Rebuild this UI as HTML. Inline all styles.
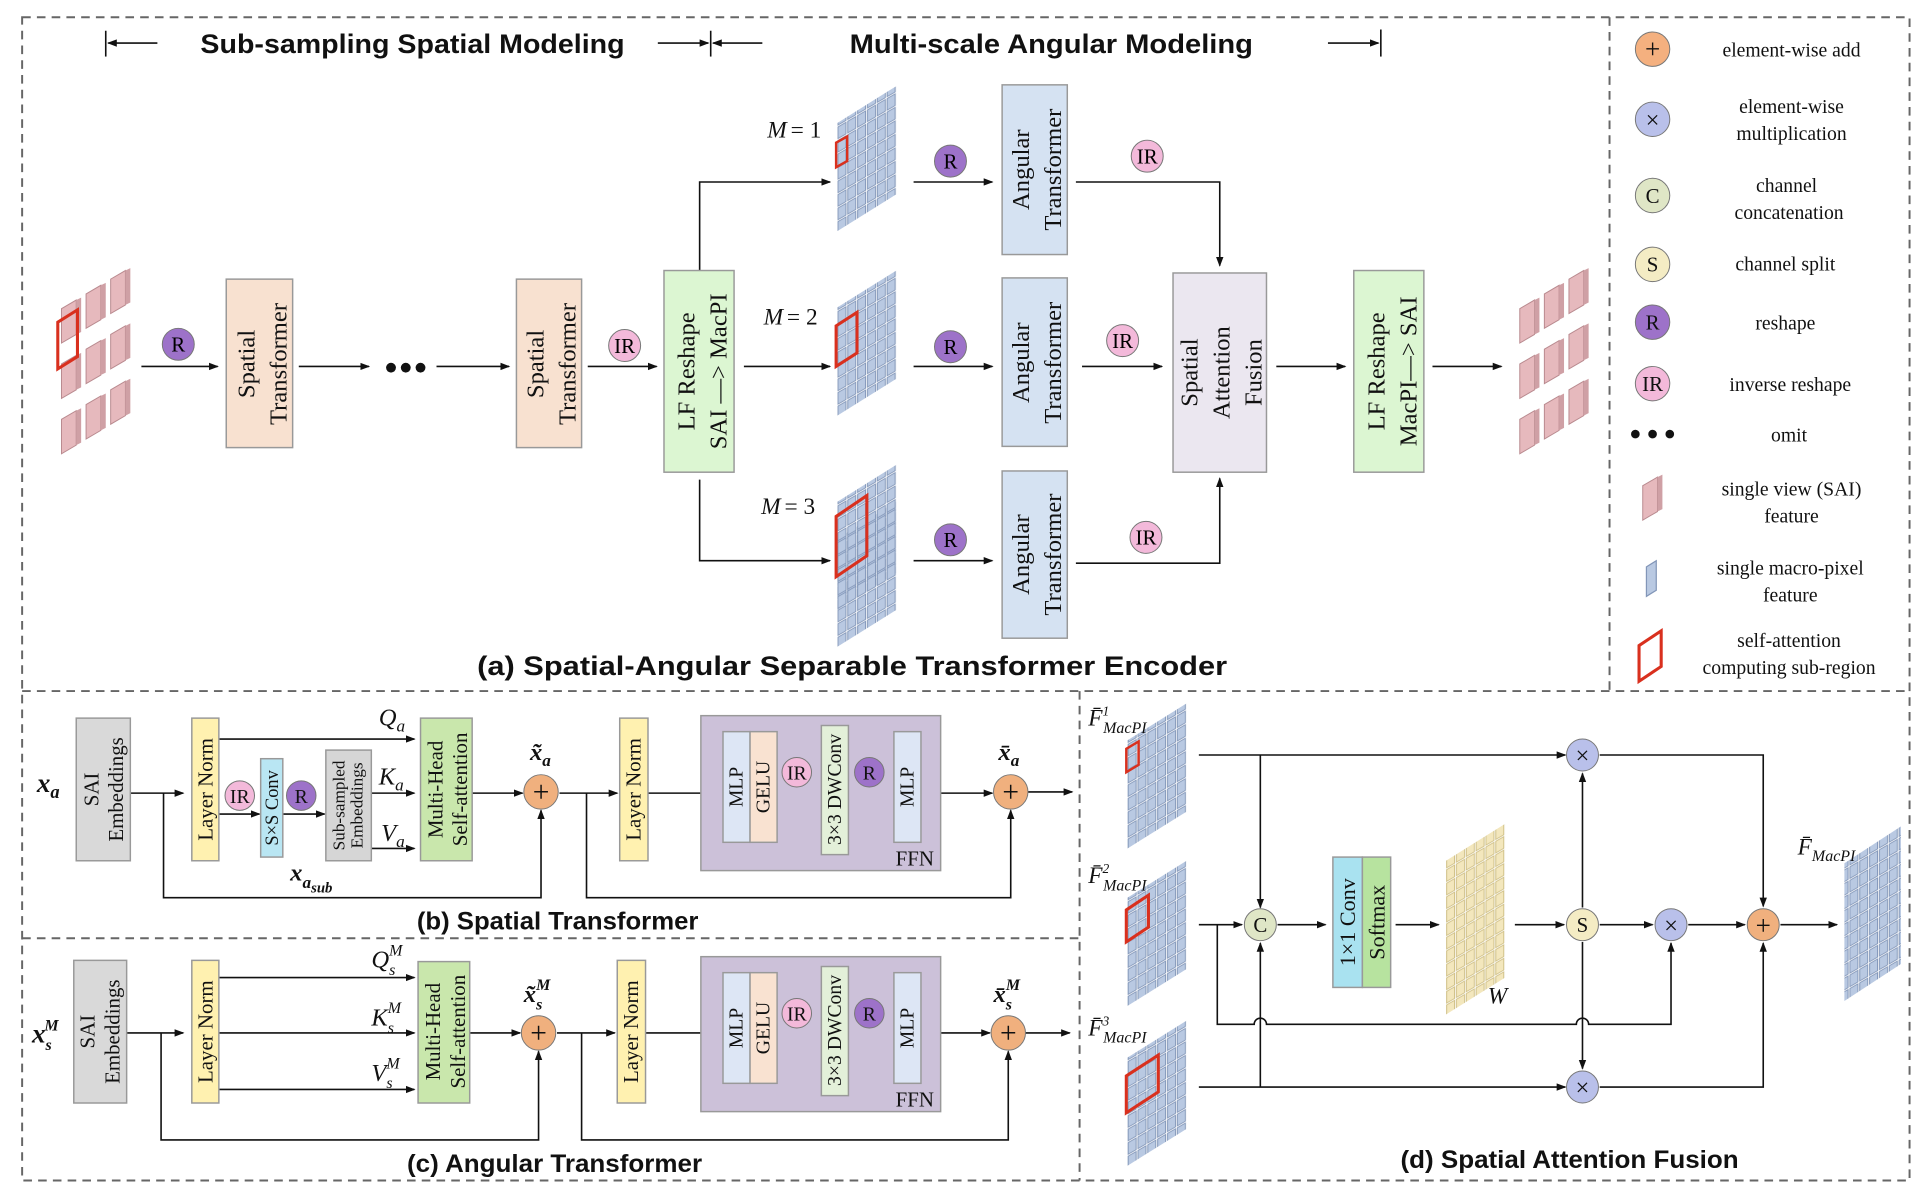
<!DOCTYPE html>
<html><head><meta charset="utf-8"><style>
html,body{margin:0;padding:0;background:#fff}
svg{display:block}
.t{font-family:"Liberation Serif",serif;fill:#111}
.s{font-family:"Liberation Sans",sans-serif;font-weight:bold;fill:#111}
.ln{stroke:#111;stroke-width:1.3;fill:none}
.bx{stroke:#999;stroke-width:1.2}
</style></head><body>
<svg width="1928" height="1194" viewBox="0 0 1568 971" preserveAspectRatio="none" xmlns="http://www.w3.org/2000/svg">
<defs>
<marker id="a" markerWidth="8" markerHeight="8" refX="7" refY="4" orient="auto" markerUnits="userSpaceOnUse"><path d="M0,1 L8,4 L0,7z" fill="#111"/></marker>
<pattern id="gp" width="8" height="11" patternUnits="userSpaceOnUse" patternTransform="skewY(-30)"><rect x="0.5" y="0.5" width="6.5" height="9.5" fill="#b9c9e2" stroke="#8296b8" stroke-width="0.8"/></pattern>
<pattern id="yp" width="8" height="11" patternUnits="userSpaceOnUse" patternTransform="skewY(-30)"><rect x="0.5" y="0.5" width="6.5" height="9.5" fill="#f3e7bd" stroke="#cfbf85" stroke-width="0.8"/></pattern>
<g id="blk"><polygon points="0,12 12,5 12,33 0,40" fill="#e6b9bd" stroke="#b98a8f" stroke-width="0.8"/><polygon points="12,5 16,3 16,31 12,33" fill="#cfa0a5"/></g>
<g id="sai">
<use href="#blk" x="40" y="0"/><use href="#blk" x="20" y="12"/><use href="#blk" x="0" y="24"/>
<use href="#blk" x="40" y="45"/><use href="#blk" x="20" y="57"/><use href="#blk" x="0" y="69"/>
<use href="#blk" x="40" y="90"/><use href="#blk" x="20" y="102"/><use href="#blk" x="0" y="114"/>
</g>
<g id="grid"><polygon points="0,30 48,0 48,88 0,118" fill="url(#gp)"/></g>
</defs>
<rect width="1568" height="971" fill="#fff"/>
<g stroke="#666" stroke-width="1.6" stroke-dasharray="7,5" fill="none">
<rect x="18" y="14" width="1535" height="946"/>
<line x1="1309" y1="14" x2="1309" y2="562"/>
<line x1="18" y1="562" x2="1553" y2="562"/>
<line x1="878" y1="562" x2="878" y2="960"/>
<line x1="18" y1="763" x2="878" y2="763"/>
</g>
<g class="ln"><line x1="86" y1="25" x2="86" y2="46"/><line x1="128" y1="35" x2="88" y2="35" marker-end="url(#a)"/>
<line x1="535" y1="35" x2="576" y2="35" marker-end="url(#a)"/><line x1="578" y1="25" x2="578" y2="46"/><line x1="620" y1="35" x2="580" y2="35" marker-end="url(#a)"/>
<line x1="1080" y1="35" x2="1121" y2="35" marker-end="url(#a)"/><line x1="1123" y1="24" x2="1123" y2="46"/></g>
<text class="s" x="163" y="43" font-size="22" textLength="345" lengthAdjust="spacingAndGlyphs">Sub-sampling Spatial Modeling</text>
<text class="s" x="691" y="43" font-size="22" textLength="328" lengthAdjust="spacingAndGlyphs">Multi-scale Angular Modeling</text>

<use href="#sai" x="50" y="215"/>
<polygon points="47,262 63,252 63,290 47,300" fill="none" stroke="#d9301e" stroke-width="2.5"/>
<use href="#sai" x="1236" y="215"/>
<g class="ln">
<line x1="115" y1="298" x2="177" y2="298" marker-end="url(#a)"/>
<line x1="243" y1="298" x2="300" y2="298" marker-end="url(#a)"/>
<line x1="355" y1="298" x2="414" y2="298" marker-end="url(#a)"/>
<line x1="478" y1="298" x2="534" y2="298" marker-end="url(#a)"/>
<polyline points="569,220 569,148 675,148" marker-end="url(#a)"/>
<line x1="605" y1="298" x2="675" y2="298" marker-end="url(#a)"/>
<polyline points="569,390 569,456 675,456" marker-end="url(#a)"/>
<line x1="743" y1="148" x2="807" y2="148" marker-end="url(#a)"/>
<line x1="743" y1="298" x2="807" y2="298" marker-end="url(#a)"/>
<line x1="743" y1="456" x2="807" y2="456" marker-end="url(#a)"/>
<polyline points="875,148 992,148 992,216" marker-end="url(#a)"/>
<line x1="880" y1="298" x2="945" y2="298" marker-end="url(#a)"/>
<polyline points="875,458 992,458 992,389" marker-end="url(#a)"/>
<line x1="1038" y1="298" x2="1094" y2="298" marker-end="url(#a)"/>
<line x1="1165" y1="298" x2="1221" y2="298" marker-end="url(#a)"/>
</g>
<circle cx="318" cy="299" r="4" fill="#111"/><circle cx="330" cy="299" r="4" fill="#111"/><circle cx="342" cy="299" r="4" fill="#111"/>
<rect class="bx" x="184" y="227" width="54" height="137" fill="#f8e1d0"/>
<text class="t" font-size="20" transform="translate(211,296) rotate(-90)" text-anchor="middle"><tspan x="0" dy="-4">Spatial</tspan><tspan x="0" dy="26">Transformer</tspan></text>
<rect class="bx" x="420" y="227" width="53" height="137" fill="#f8e1d0"/>
<text class="t" font-size="20" transform="translate(446,296) rotate(-90)" text-anchor="middle"><tspan x="0" dy="-4">Spatial</tspan><tspan x="0" dy="26">Transformer</tspan></text>
<rect class="bx" x="540" y="220" width="57" height="164" fill="#dcf6d2"/>
<text class="t" font-size="20" transform="translate(569,302) rotate(-90)" text-anchor="middle"><tspan x="0" dy="-4">LF   Reshape</tspan><tspan x="0" dy="26">SAI —&gt; MacPI</tspan></text>
<rect class="bx" x="1101" y="220" width="57" height="164" fill="#dcf6d2"/>
<text class="t" font-size="20" transform="translate(1130,302) rotate(-90)" text-anchor="middle"><tspan x="0" dy="-4">LF   Reshape</tspan><tspan x="0" dy="26">MacPI—&gt; SAI</tspan></text>
<rect class="bx" x="954" y="222" width="76" height="162" fill="#ebe7f0"/>
<text class="t" font-size="20" transform="translate(992,303) rotate(-90)" text-anchor="middle"><tspan x="0" dy="-18">Spatial</tspan><tspan x="0" dy="26">Attention</tspan><tspan x="0" dy="26">Fusion</tspan></text>
<g>
<rect class="bx" x="815" y="69" width="53" height="138" fill="#d5e2f2"/>
<text class="t" font-size="20" transform="translate(841,138) rotate(-90)" text-anchor="middle"><tspan x="0" dy="-4">Angular</tspan><tspan x="0" dy="26">Transformer</tspan></text>
<rect class="bx" x="815" y="226" width="53" height="137" fill="#d5e2f2"/>
<text class="t" font-size="20" transform="translate(841,295) rotate(-90)" text-anchor="middle"><tspan x="0" dy="-4">Angular</tspan><tspan x="0" dy="26">Transformer</tspan></text>
<rect class="bx" x="815" y="383" width="53" height="136" fill="#d5e2f2"/>
<text class="t" font-size="20" transform="translate(841,451) rotate(-90)" text-anchor="middle"><tspan x="0" dy="-4">Angular</tspan><tspan x="0" dy="26">Transformer</tspan></text>
</g>
<use href="#grid" x="681" y="70"/><use href="#grid" x="681" y="220"/><use href="#grid" x="681" y="378"/><use href="#grid" x="681" y="408"/>
<polygon points="680,116 689,111 689,131 680,136" fill="none" stroke="#d9301e" stroke-width="2"/>
<polygon points="680,265 697,254 697,287 680,298" fill="none" stroke="#d9301e" stroke-width="2.5"/>
<polygon points="680,420 705,403 705,452 680,469" fill="none" stroke="#d9301e" stroke-width="2.5"/>
<text class="t" font-size="19" font-style="italic" x="624" y="112">M</text><text class="t" font-size="19" x="643" y="112">= 1</text>
<text class="t" font-size="19" font-style="italic" x="621" y="264">M</text><text class="t" font-size="19" x="640" y="264">= 2</text>
<text class="t" font-size="19" font-style="italic" x="619" y="418">M</text><text class="t" font-size="19" x="638" y="418">= 3</text>
<g font-family="Liberation Serif,serif" font-size="17" text-anchor="middle">
<g stroke="#777" stroke-width="0.8">
<circle cx="145" cy="280" r="13" fill="#9d72c9"/><circle cx="508" cy="281" r="13" fill="#f3b9da"/>
<circle cx="773" cy="131" r="13" fill="#9d72c9"/><circle cx="773" cy="282" r="13" fill="#9d72c9"/><circle cx="773" cy="439" r="13" fill="#9d72c9"/>
<circle cx="933" cy="127" r="13" fill="#f3b9da"/><circle cx="913" cy="277" r="13" fill="#f3b9da"/><circle cx="932" cy="437" r="13" fill="#f3b9da"/>
</g>
<text x="145" y="286">R</text><text x="508" y="287">IR</text>
<text x="773" y="137">R</text><text x="773" y="288">R</text><text x="773" y="445">R</text>
<text x="933" y="133">IR</text><text x="913" y="283">IR</text><text x="932" y="443">IR</text>
</g>
<text class="s" x="388" y="549" font-size="22" textLength="610" lengthAdjust="spacingAndGlyphs">(a) Spatial-Angular Separable Transformer Encoder</text>

<g stroke="#777" stroke-width="0.8">
<circle cx="1344" cy="40" r="14" fill="#f4b07f"/><circle cx="1344" cy="97" r="14" fill="#b9c0ea"/>
<circle cx="1344" cy="159" r="14" fill="#dfe6c6"/><circle cx="1344" cy="215" r="14" fill="#f4ecc4"/>
<circle cx="1344" cy="262" r="14" fill="#9d72c9"/><circle cx="1344" cy="312" r="14" fill="#f3b9da"/>
</g>
<g font-family="Liberation Serif,serif" font-size="17" text-anchor="middle" fill="#111">
<text x="1344" y="47" font-size="22">+</text><text x="1344" y="104" font-size="20">×</text>
<text x="1344" y="165">C</text><text x="1344" y="221">S</text><text x="1344" y="268">R</text><text x="1344" y="318">IR</text>
</g>
<circle cx="1330" cy="353" r="3.5" fill="#111"/><circle cx="1344" cy="353" r="3.5" fill="#111"/><circle cx="1358" cy="353" r="3.5" fill="#111"/>
<use href="#blk" x="1336" y="383"/>
<polygon points="1339,461 1347,456 1347,480 1339,485" fill="#b9c9e2" stroke="#8296b8"/>
<polygon points="1333,525 1351,513 1351,542 1333,554" fill="none" stroke="#d9301e" stroke-width="2.5"/>
<g font-family="Liberation Serif,serif" font-size="16" text-anchor="middle" fill="#111">
<text x="1457" y="46">element-wise add</text>
<text x="1457" y="92">element-wise</text><text x="1457" y="114">multiplication</text>
<text x="1453" y="156">channel</text><text x="1455" y="178">concatenation</text>
<text x="1452" y="220">channel split</text>
<text x="1452" y="268">reshape</text>
<text x="1456" y="318">inverse reshape</text>
<text x="1455" y="359">omit</text>
<text x="1457" y="403">single view (SAI)</text><text x="1457" y="425">feature</text>
<text x="1456" y="467">single macro-pixel</text><text x="1456" y="489">feature</text>
<text x="1455" y="526">self-attention</text><text x="1455" y="548">computing sub-region</text>
</g>

<g class="ln">
<line x1="106" y1="645" x2="149" y2="645" marker-end="url(#a)"/>
<line x1="178" y1="601" x2="337" y2="601" marker-end="url(#a)"/>
<line x1="178" y1="662" x2="211" y2="662" marker-end="url(#a)"/>
<line x1="230" y1="662" x2="264" y2="662" marker-end="url(#a)"/>
<line x1="302" y1="645" x2="337" y2="645" marker-end="url(#a)"/>
<line x1="302" y1="690" x2="337" y2="690" marker-end="url(#a)"/>
<line x1="384" y1="645" x2="425" y2="645" marker-end="url(#a)"/>
<polyline points="133,645 133,730 440,730 440,659" marker-end="url(#a)"/>
<line x1="455" y1="645" x2="502" y2="645" marker-end="url(#a)"/>
<line x1="527" y1="645" x2="586" y2="645" marker-end="url(#a)"/>
<line x1="632" y1="645" x2="667" y2="645" marker-end="url(#a)"/>
<line x1="690" y1="645" x2="725" y2="645" marker-end="url(#a)"/>
<line x1="749" y1="645" x2="807" y2="645" marker-end="url(#a)"/>
<polyline points="477,645 477,730 822,730 822,659" marker-end="url(#a)"/>
<line x1="836" y1="644" x2="872" y2="644" marker-end="url(#a)"/>
</g>
<rect class="bx" x="62" y="584" width="44" height="116" fill="#d9d9d9"/>
<text class="t" font-size="17" transform="translate(84,642) rotate(-90)" text-anchor="middle"><tspan x="0" dy="-4">SAI</tspan><tspan x="0" dy="20">Embeddings</tspan></text>
<rect class="bx" x="156" y="584" width="22" height="116" fill="#fff1b0"/>
<text class="t" font-size="17" transform="translate(173,642) rotate(-90)" text-anchor="middle">Layer Norm</text>
<rect class="bx" x="212" y="617" width="18" height="80" fill="#b9e6f3"/>
<text class="t" font-size="15" transform="translate(226,657) rotate(-90)" text-anchor="middle">S×S Conv</text>
<rect class="bx" x="265" y="610" width="37" height="90" fill="#d6d6d6"/>
<text class="t" font-size="14" transform="translate(283,655) rotate(-90)" text-anchor="middle"><tspan x="0" dy="-3">Sub-sampled</tspan><tspan x="0" dy="15">Embeddings</tspan></text>
<rect class="bx" x="342" y="584" width="42" height="116" fill="#c9e7ac"/>
<text class="t" font-size="17" transform="translate(363,642) rotate(-90)" text-anchor="middle"><tspan x="0" dy="-3">Multi-Head</tspan><tspan x="0" dy="20">Self-attention</tspan></text>
<rect class="bx" x="504" y="584" width="23" height="116" fill="#fff1b0"/>
<text class="t" font-size="17" transform="translate(521,642) rotate(-90)" text-anchor="middle">Layer Norm</text>
<rect class="bx" x="570" y="582" width="195" height="126" fill="#ccc1d9"/>
<rect class="bx" x="588" y="595" width="22" height="90" fill="#dde6f5"/>
<rect class="bx" x="610" y="595" width="22" height="90" fill="#f9e2d1"/>
<rect class="bx" x="668" y="590" width="22" height="105" fill="#e3f0d9"/>
<rect class="bx" x="727" y="595" width="22" height="90" fill="#dde6f5"/>
<g class="t" font-size="16" text-anchor="middle">
<text transform="translate(604,640) rotate(-90)">MLP</text><text transform="translate(626,640) rotate(-90)">GELU</text>
<text transform="translate(684,642) rotate(-90)">3×3 DWConv</text><text transform="translate(743,640) rotate(-90)">MLP</text>
</g>
<text class="t" font-size="17" x="744" y="704" text-anchor="middle">FFN</text>

<g class="ln">
<line x1="103" y1="840" x2="149" y2="840" marker-end="url(#a)"/>
<line x1="178" y1="795" x2="337" y2="795" marker-end="url(#a)"/>
<line x1="178" y1="840" x2="337" y2="840" marker-end="url(#a)"/>
<line x1="178" y1="886" x2="337" y2="886" marker-end="url(#a)"/>
<line x1="382" y1="840" x2="423" y2="840" marker-end="url(#a)"/>
<polyline points="131,840 131,927 438,927 438,855" marker-end="url(#a)"/>
<line x1="453" y1="840" x2="500" y2="840" marker-end="url(#a)"/>
<line x1="525" y1="840" x2="586" y2="840" marker-end="url(#a)"/>
<line x1="632" y1="840" x2="667" y2="840" marker-end="url(#a)"/>
<line x1="690" y1="840" x2="725" y2="840" marker-end="url(#a)"/>
<line x1="749" y1="840" x2="805" y2="840" marker-end="url(#a)"/>
<polyline points="473,840 473,927 820,927 820,855" marker-end="url(#a)"/>
<line x1="834" y1="840" x2="870" y2="840" marker-end="url(#a)"/>
</g>
<rect class="bx" x="60" y="781" width="43" height="116" fill="#d9d9d9"/>
<text class="t" font-size="17" transform="translate(81,839) rotate(-90)" text-anchor="middle"><tspan x="0" dy="-4">SAI</tspan><tspan x="0" dy="20">Embeddings</tspan></text>
<rect class="bx" x="156" y="781" width="22" height="116" fill="#fff1b0"/>
<text class="t" font-size="17" transform="translate(173,839) rotate(-90)" text-anchor="middle">Layer Norm</text>
<rect class="bx" x="340" y="782" width="42" height="115" fill="#c9e7ac"/>
<text class="t" font-size="17" transform="translate(361,839) rotate(-90)" text-anchor="middle"><tspan x="0" dy="-3">Multi-Head</tspan><tspan x="0" dy="20">Self-attention</tspan></text>
<rect class="bx" x="502" y="781" width="23" height="116" fill="#fff1b0"/>
<text class="t" font-size="17" transform="translate(519,839) rotate(-90)" text-anchor="middle">Layer Norm</text>
<rect class="bx" x="570" y="778" width="195" height="126" fill="#ccc1d9"/>
<rect class="bx" x="588" y="791" width="22" height="90" fill="#dde6f5"/>
<rect class="bx" x="610" y="791" width="22" height="90" fill="#f9e2d1"/>
<rect class="bx" x="668" y="786" width="22" height="105" fill="#e3f0d9"/>
<rect class="bx" x="727" y="791" width="22" height="90" fill="#dde6f5"/>
<g class="t" font-size="16" text-anchor="middle">
<text transform="translate(604,836) rotate(-90)">MLP</text><text transform="translate(626,836) rotate(-90)">GELU</text>
<text transform="translate(684,838) rotate(-90)">3×3 DWConv</text><text transform="translate(743,836) rotate(-90)">MLP</text>
</g>
<text class="t" font-size="17" x="744" y="900" text-anchor="middle">FFN</text>

<g stroke="#777" stroke-width="0.8">
<circle cx="195" cy="647" r="12" fill="#f3b9da"/><circle cx="245" cy="647" r="12" fill="#9d72c9"/>
<circle cx="648" cy="628" r="12" fill="#f3b9da"/><circle cx="707" cy="628" r="12" fill="#9d72c9"/>
<circle cx="648" cy="824" r="12" fill="#f3b9da"/><circle cx="707" cy="824" r="12" fill="#9d72c9"/>
<circle cx="440" cy="644" r="14" fill="#f0b07e"/><circle cx="822" cy="644" r="14" fill="#f0b07e"/>
<circle cx="438" cy="840" r="14" fill="#f0b07e"/><circle cx="820" cy="840" r="14" fill="#f0b07e"/>
</g>
<g font-family="Liberation Serif,serif" font-size="16" text-anchor="middle" fill="#111">
<text x="195" y="653">IR</text><text x="245" y="653">R</text>
<text x="648" y="634">IR</text><text x="707" y="634">R</text><text x="648" y="830">IR</text><text x="707" y="830">R</text>
<g font-size="24"><text x="440" y="652">+</text><text x="822" y="652">+</text><text x="438" y="848">+</text><text x="820" y="848">+</text></g>
</g>
<g class="t" font-style="italic" font-size="20">
<text x="30" y="644" font-weight="bold" font-size="22">x<tspan font-size="15" dy="5">a</tspan></text>
<text x="308" y="590">Q<tspan font-size="14" dy="5">a</tspan></text>
<text x="308" y="638">K<tspan font-size="14" dy="5">a</tspan></text>
<text x="310" y="684">V<tspan font-size="14" dy="5">a</tspan></text>
<text x="236" y="716" font-weight="bold">x<tspan font-size="14" dy="6">a</tspan><tspan font-size="12" dy="4">sub</tspan></text>
<text x="431" y="618" font-weight="bold">x̃<tspan font-size="14" dy="5">a</tspan></text>
<text x="812" y="618" font-weight="bold">x̄<tspan font-size="14" dy="5">a</tspan></text>
<text x="26" y="848" font-weight="bold" font-size="22">x<tspan font-size="13" dy="6">s</tspan><tspan font-size="13" dx="-6" dy="-16">M</tspan></text>
<text x="302" y="787">Q<tspan font-size="13" dy="6">s</tspan><tspan font-size="13" dx="-5" dy="-16">M</tspan></text>
<text x="302" y="834">K<tspan font-size="13" dy="6">s</tspan><tspan font-size="13" dx="-5" dy="-16">M</tspan></text>
<text x="302" y="879">V<tspan font-size="13" dy="6">s</tspan><tspan font-size="13" dx="-5" dy="-16">M</tspan></text>
<text x="426" y="815" font-weight="bold">x̃<tspan font-size="13" dy="6">s</tspan><tspan font-size="13" dx="-5" dy="-16">M</tspan></text>
<text x="808" y="815" font-weight="bold">x̄<tspan font-size="13" dy="6">s</tspan><tspan font-size="13" dx="-5" dy="-16">M</tspan></text>
</g>
<text class="s" x="339" y="756" font-size="20" textLength="229" lengthAdjust="spacingAndGlyphs">(b) Spatial Transformer</text>
<text class="s" x="331" y="953" font-size="20" textLength="240" lengthAdjust="spacingAndGlyphs">(c) Angular Transformer</text>

<use href="#grid" x="917" y="572"/><use href="#grid" x="917" y="700"/><use href="#grid" x="917" y="830"/>
<polygon points="916,609 926,603 926,622 916,628" fill="none" stroke="#d9301e" stroke-width="2"/>
<polygon points="916,740 934,728 934,754 916,766" fill="none" stroke="#d9301e" stroke-width="2.5"/>
<polygon points="916,875 942,858 942,888 916,905" fill="none" stroke="#d9301e" stroke-width="2.5"/>
<polygon points="1176,700 1224,670 1224,795 1176,825" fill="url(#yp)"/>
<polygon points="1500,702 1546,672 1546,784 1500,814" fill="url(#gp)"/>
<g class="ln">
<line x1="975" y1="614" x2="1273" y2="614" marker-end="url(#a)"/>
<polyline points="1301,614 1434,614 1434,737" marker-end="url(#a)"/>
<line x1="1025" y1="614" x2="1025" y2="738" marker-end="url(#a)"/>
<line x1="975" y1="752" x2="1010" y2="752" marker-end="url(#a)"/>
<line x1="1039" y1="752" x2="1078" y2="752" marker-end="url(#a)"/>
<line x1="1135" y1="752" x2="1170" y2="752" marker-end="url(#a)"/>
<line x1="1232" y1="752" x2="1272" y2="752" marker-end="url(#a)"/>
<line x1="1287" y1="738" x2="1287" y2="629" marker-end="url(#a)"/>
<line x1="1287" y1="766" x2="1287" y2="869" marker-end="url(#a)"/>
<line x1="1301" y1="752" x2="1344" y2="752" marker-end="url(#a)"/>
<line x1="1373" y1="752" x2="1419" y2="752" marker-end="url(#a)"/>
<line x1="1448" y1="752" x2="1494" y2="752" marker-end="url(#a)"/>
<path d="M990,752 V833 H1020 a5,5 0 0 1 10,0 H1282 a5,5 0 0 1 10,0 H1359 V767" marker-end="url(#a)"/>
<line x1="975" y1="884" x2="1273" y2="884" marker-end="url(#a)"/>
<polyline points="1301,884 1434,884 1434,767" marker-end="url(#a)"/>
<line x1="1025" y1="884" x2="1025" y2="767" marker-end="url(#a)"/>
</g>
<rect class="bx" x="1084" y="697" width="24" height="106" fill="#a9e2f0"/>
<rect class="bx" x="1108" y="697" width="23" height="106" fill="#b7e39f"/>
<g class="t" font-size="18" text-anchor="middle"><text transform="translate(1102,750) rotate(-90)">1×1 Conv</text><text transform="translate(1126,750) rotate(-90)">Softmax</text></g>
<g stroke="#777" stroke-width="0.8">
<circle cx="1025" cy="752" r="13" fill="#dfe6c6"/><circle cx="1287" cy="752" r="13" fill="#f4ecc4"/>
<circle cx="1287" cy="614" r="13" fill="#b9c0ea"/><circle cx="1287" cy="884" r="13" fill="#b9c0ea"/><circle cx="1359" cy="752" r="13" fill="#b9c0ea"/>
<circle cx="1434" cy="752" r="13" fill="#f0b07e"/>
</g>
<g font-family="Liberation Serif,serif" font-size="17" text-anchor="middle" fill="#111">
<text x="1025" y="758">C</text><text x="1287" y="758">S</text>
<g font-size="20"><text x="1287" y="621">×</text><text x="1287" y="891">×</text><text x="1359" y="759">×</text></g>
<text x="1434" y="760" font-size="22">+</text>
</g>
<g class="t" font-style="italic" font-size="19">
<text x="885" y="590">F̄<tspan font-size="11" dy="-8">1</tspan><tspan font-size="13" dx="-5" dy="14">MacPI</tspan></text>
<text x="885" y="718">F̄<tspan font-size="11" dy="-8">2</tspan><tspan font-size="13" dx="-5" dy="14">MacPI</tspan></text>
<text x="885" y="842">F̄<tspan font-size="11" dy="-8">3</tspan><tspan font-size="13" dx="-5" dy="14">MacPI</tspan></text>
<text x="1462" y="695">F̄<tspan font-size="13" dy="5">MacPI</tspan></text>
<text x="1210" y="816">W</text>
</g>
<text class="s" x="1139" y="950" font-size="20" textLength="275" lengthAdjust="spacingAndGlyphs">(d) Spatial Attention Fusion</text>
</svg>
</body></html>
